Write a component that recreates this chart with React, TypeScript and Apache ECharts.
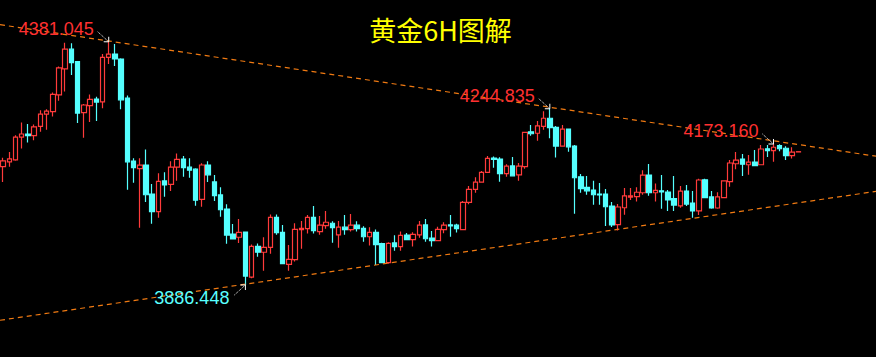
import React, { useEffect, useRef } from "react";
import * as echarts from "echarts";

// ---- data (price values) ----
const TITLE = "黄金6H图解";
const CATEGORY_COUNT = 141; // 6H bars shown incl. empty space at right
const categories = Array.from({ length: CATEGORY_COUNT }, (_, i) => String(i + 1));

// [open, close, low, high]
const candles: number[][] = [
  [4127, 4139, 4096, 4145], [4137, 4143, 4127, 4157], [4141, 4187, 4139, 4191], [4187, 4193.5, 4164, 4217],
  [4193.5, 4190, 4176, 4214], [4190, 4208, 4181, 4213], [4209, 4234, 4198, 4242], [4234, 4240, 4202, 4244],
  [4239, 4274, 4229, 4278], [4273, 4328, 4261, 4331], [4326, 4366, 4280, 4379], [4366, 4338.5, 4313.5, 4378],
  [4340.5, 4236, 4216, 4342], [4237, 4252.5, 4186, 4254.5], [4251, 4264, 4218, 4274], [4264.5, 4258.5, 4220, 4269],
  [4259, 4349.5, 4246, 4356], [4349.5, 4356, 4336, 4381.045], [4356, 4346, 4332, 4376.5], [4346, 4263, 4244, 4347.5],
  [4266.5, 4137, 4080, 4272], [4138.5, 4125, 4094.5, 4144], [4123, 4130, 4003, 4144], [4130.5, 4070, 4055, 4162],
  [4071.5, 4035.5, 4011, 4092], [4035.5, 4097, 4023, 4113.5], [4098, 4090, 4066, 4115.5], [4091, 4126, 4077.5, 4138],
  [4126, 4142, 4098.5, 4154], [4142.5, 4125, 4106.5, 4149], [4126, 4120, 4104.5, 4144], [4122, 4059, 4047.5, 4124],
  [4060.5, 4130.5, 4045.5, 4134], [4130.5, 4110.5, 4096, 4138], [4096, 4068, 4057, 4110], [4069.5, 4039.5, 4025, 4085],
  [4041, 3988, 3970.5, 4050.5], [3990, 3980, 3979, 4010.5], [3983.5, 3993.5, 3972, 4020.5], [3994, 3904.5, 3886.448, 3995],
  [3902.5, 3965, 3900, 3969], [3965, 3953, 3944, 3971], [3953, 3963, 3915.5, 3983.5], [3963, 4024, 3950, 4030],
  [4024, 3993, 3988.5, 4030], [3993.5, 3930, 3929, 4008.5], [3928.5, 3938.5, 3915.5, 3968], [3938, 3999.5, 3934, 4012],
  [3999, 4001.5, 3960, 4016.5], [4001, 4024, 3991, 4029], [4024, 3997, 3991, 4047], [3995, 4008, 3988.5, 4026.5],
  [4007, 4014, 4001, 4037], [4012, 4003, 3972.5, 4016], [3988.5, 4004, 3962, 4016.5], [4004, 3999, 3988.5, 4029],
  [3999, 4008, 3995, 4031], [4008, 4001, 3995, 4016], [4001.5, 3984.5, 3974.5, 4006], [3984.5, 3993.5, 3966.5, 4004],
  [3993.5, 3968.5, 3927, 3999.5], [3970.5, 3932, 3931, 3972.5], [3932, 3971, 3929.5, 3973.5], [3972, 3964.5, 3956, 3987.5],
  [3964.5, 3987.5, 3956, 3995], [3988, 3978.5, 3978, 3992], [3978.5, 3989.5, 3964.5, 3993.5], [3988.5, 4008, 3982.5, 4016.5],
  [4008.5, 3980.5, 3974.5, 4020.5], [3982, 3976.5, 3964.5, 3996], [3976.5, 3999.5, 3976, 4005], [3999, 4008, 3991.5, 4014],
  [4008.5, 4006.5, 3984.5, 4029], [4008, 4001, 3993, 4011], [3999, 4054.5, 3998, 4057], [4054.5, 4081, 4050.5, 4088],
  [4081, 4095.5, 4074, 4105.5], [4095.5, 4115.5, 4095, 4118], [4115.5, 4144, 4115, 4149], [4144.5, 4142, 4125, 4147.5],
  [4142.5, 4113, 4096.5, 4146], [4113, 4128, 4106.5, 4132], [4128.5, 4108.5, 4108, 4146.5], [4110.5, 4128, 4098.5, 4134.5],
  [4127, 4197, 4123, 4197.5], [4198, 4194, 4190, 4212], [4195, 4210, 4180, 4220], [4209, 4225.5, 4202, 4240],
  [4225.5, 4206.5, 4185, 4244.835], [4207, 4169, 4145.5, 4210], [4169, 4203.5, 4168, 4212], [4203.5, 4167.5, 4157.5, 4204],
  [4169, 4104.5, 4031.5, 4171], [4106.5, 4082.5, 4074, 4112], [4085, 4078, 4070, 4108], [4079.5, 4070, 4049.5, 4098.5],
  [4071.5, 4069.5, 4049.5, 4094], [4071.5, 4045.5, 4006.5, 4081.5], [4047, 4008.5, 4004.5, 4055], [4009, 4045, 3997, 4051],
  [4043.5, 4067.5, 4029.5, 4083.5], [4065, 4067.5, 4059.5, 4083.5], [4066, 4075, 4056, 4085], [4074, 4110, 4070, 4120],
  [4110, 4074, 4068, 4132.5], [4074, 4079, 4056, 4093], [4078, 4076, 4041.5, 4110], [4075.5, 4059.5, 4037, 4079.5],
  [4062, 4049, 4037, 4108], [4047.5, 4077.5, 4043.5, 4088], [4077.5, 4051, 4047, 4090], [4053, 4037, 4023, 4077.5],
  [4037, 4100, 4029, 4102.5], [4100.5, 4064, 4063, 4102.5], [4065.5, 4043, 4041.5, 4077.5], [4043, 4065.5, 4041.5, 4075],
  [4064, 4098, 4063.5, 4099.5], [4096.5, 4134.5, 4086, 4140.5], [4133, 4140.5, 4122, 4157], [4142.5, 4132, 4108, 4153],
  [4131, 4136.5, 4110.5, 4151], [4136.5, 4129, 4128.5, 4161], [4131, 4163, 4130.5, 4171], [4163.5, 4159.5, 4146.5, 4171],
  [4159.5, 4166.5, 4137, 4173.16], [4170, 4163.5, 4158.5, 4172.5], [4164.5, 4149.5, 4140.5, 4168.5], [4149.5, 4156.5, 4143.5, 4166.5],
  [4157, 4157.5, 4157, 4157.5],
];

// trend lines: [bar index, price]
const upperTrend = [[-0.5, 4415.8], [140.5, 4148.3]];
const lowerTrend = [[-0.5, 3814.7], [140.5, 4076.8]];

// annotated extremes
const annotations = [
  { idx: 17, value: 4381.045, text: "4381.045", kind: "high" },
  { idx: 88, value: 4244.835, text: "4244.835", kind: "high" },
  { idx: 124, value: 4173.16, text: "4173.160", kind: "high" },
  { idx: 39, value: 3886.448, text: "3886.448", kind: "low" },
];

const Y_MIN = 3740;
const Y_MAX = 4466;

const UP = "#ff3b3b";
const DOWN = "#55ffff";
const TREND = "#f07a12";

export default function App() {
  const ref = useRef<HTMLDivElement>(null);
  useEffect(() => {
    if (!ref.current) return;
    const chart = echarts.init(ref.current, null, { renderer: "svg" });
    chart.setOption({
      animation: false,
      backgroundColor: "#000000",
      grid: { left: -2, right: -2, top: 0, bottom: 0, containLabel: false },
      xAxis: [
        { type: "category", data: categories, boundaryGap: true, show: false },
        { type: "value", min: -0.5, max: 140.5, show: false },
      ],
      yAxis: [{ type: "value", min: Y_MIN, max: Y_MAX, show: false, splitLine: { show: false } }],
      series: [
        {
          type: "candlestick",
          xAxisIndex: 0,
          yAxisIndex: 0,
          data: candles,
          barWidth: 5,
          itemStyle: {
            color: "rgba(0,0,0,0)",
            color0: DOWN,
            borderColor: UP,
            borderColor0: DOWN,
            borderWidth: 1.2,
          },
        },
        {
          type: "line",
          xAxisIndex: 1,
          yAxisIndex: 0,
          data: upperTrend,
          symbol: "none",
          lineStyle: { color: TREND, width: 1.2, type: [5, 4] },
          z: 3,
        },
        {
          type: "line",
          xAxisIndex: 1,
          yAxisIndex: 0,
          data: lowerTrend,
          symbol: "none",
          lineStyle: { color: TREND, width: 1.2, type: [5, 4] },
          z: 3,
        },
      ],
    });

    const graphics: any[] = [
      {
        type: "text",
        x: 440.5,
        y: 29,
        style: {
          text: TITLE,
          fill: "#ffff00",
          fontSize: 27,
          fontFamily: "Noto Sans CJK SC",
          align: "center",
          verticalAlign: "middle",
        },
        z: 10,
      },
    ];
    annotations.forEach((a) => {
      const p = chart.convertToPixel({ seriesIndex: 0 }, [a.idx, a.value]) as number[];
      if (!p) return;
      const [tx, ty] = p;
      const isHigh = a.kind === "high";
      const sy = isHigh ? -1 : 1;
      graphics.push({
        type: "line",
        shape: { x1: tx - 11, y1: ty + sy * 10, x2: tx, y2: ty },
        style: { stroke: "#ffffff", lineWidth: 1, lineDash: [1, 1] },
        z: 10,
      });
      graphics.push({
        type: "polyline",
        shape: { points: [[tx - 5, ty], [tx, ty], [tx, ty + sy * 5]] },
        style: { stroke: "#ffffff", lineWidth: 1, fill: null },
        z: 10,
      });
      graphics.push({
        type: "text",
        x: tx - (isHigh ? 15 : 16),
        y: ty + sy * 13,
        style: {
          text: a.text,
          fill: isHigh ? "#ff3030" : "#5affff",
          fontSize: 18,
          fontFamily: "Liberation Sans, Arial, sans-serif",
          align: "right",
          verticalAlign: "middle",
        },
        z: 10,
      });
    });
    chart.setOption({ graphic: graphics });

    return () => chart.dispose();
  }, []);

  return (
    <div
      ref={ref}
      style={{ position: "fixed", left: 0, top: 0, width: 876, height: 357, background: "#000" }}
    />
  );
}
